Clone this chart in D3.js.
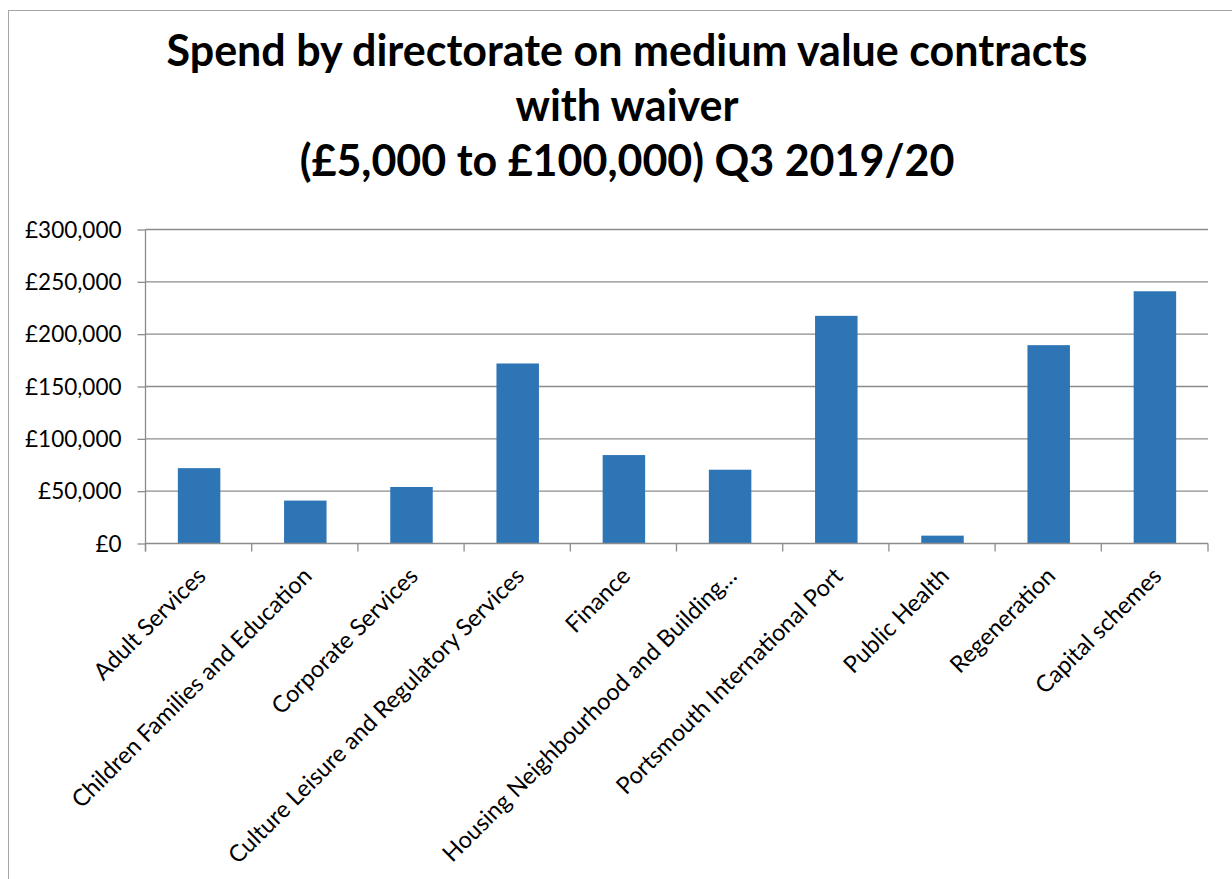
<!DOCTYPE html>
<html>
<head>
<meta charset="utf-8">
<script src="https://cdn.jsdelivr.net/npm/d3@7"></script>
<style>
  html, body { margin: 0; padding: 0; background: #fff; }
  svg { display: block; }
</style>
</head>
<body>
<svg id="chart" width="1232" height="879"></svg>
<script>
const titleLines = [
  "Spend by directorate on medium value contracts",
  "with waiver",
  "(£5,000 to £100,000) Q3 2019/20"
];
const categories = [
  "Adult Services",
  "Children Families and Education",
  "Corporate Services",
  "Culture Leisure and Regulatory Services",
  "Finance",
  "Housing Neighbourhood and Building…",
  "Portsmouth International Port",
  "Public Health",
  "Regeneration",
  "Capital schemes"
];
const spend = [72000, 41000, 54000, 172000, 84500, 70500, 217500, 7500, 189500, 241000];
const yTicks = [0, 50000, 100000, 150000, 200000, 250000, 300000];

(function () {
const svg = d3.select("#chart");
const plotL = 145.5, plotR = 1208, plotT = 229.5, plotB = 543.5;
const gridColor = "#8c8c8c";

// chart border
svg.append("rect").attr("x", 8.5).attr("y", 10.5).attr("width", 1300).attr("height", 1000)
  .attr("fill", "none").attr("stroke", "#a6a6a6").attr("stroke-width", 1);

const x = d3.scaleBand().domain(categories).range([plotL + 0.5, plotR]).paddingInner(0.6).paddingOuter(0.3);
const y = d3.scaleLinear().domain([0, 300000]).range([plotB, plotT]);

// title
const title = svg.append("g").attr("font-family", "Lato, sans-serif").attr("font-weight", "bold").attr("fill", "#000");
const baselines = [66, 121, 176];
const tl = title.selectAll("text").data(titleLines).join("text")
  .attr("x", 627).attr("y", (d, i) => baselines[i]).attr("text-anchor", "middle")
  .attr("font-size", 40).text(d => d);
const w0 = tl.nodes()[0].getComputedTextLength();
tl.attr("font-size", 40 * 921 / w0);

// gridlines
svg.append("g").selectAll("line").data(yTicks.slice(1)).join("line")
  .attr("x1", plotL).attr("x2", plotR).attr("y1", d => y(d)).attr("y2", d => y(d))
  .attr("stroke", gridColor).attr("stroke-width", 1.3);

// bars
svg.append("g").selectAll("rect").data(categories).join("rect")
  .attr("x", d => x(d)).attr("width", x.bandwidth())
  .attr("y", (d, i) => y(spend[i])).attr("height", (d, i) => y(0) - y(spend[i]))
  .attr("fill", "#2E75B6");

// y axis
const yAxis = svg.append("g").attr("transform", `translate(${plotL},0)`)
  .call(d3.axisLeft(y).tickValues(yTicks).tickSize(8).tickPadding(16)
    .tickFormat(d => "£" + d3.format(",")(d)));
yAxis.select(".domain").attr("stroke", gridColor).attr("stroke-width", 1.3)
  .attr("d", `M0,${plotT}V${plotB + 8}`);
yAxis.selectAll(".tick line").attr("stroke", gridColor).attr("stroke-width", 1.3);
yAxis.selectAll(".tick text").attr("font-family", "Lato, sans-serif").attr("font-size", 22.5).attr("fill", "#000")
  .attr("dy", "0.34em");

// x axis
const xAxis = svg.append("g").attr("transform", `translate(0,${plotB})`)
  .call(d3.axisBottom(x).tickSize(0).tickPadding(0));
xAxis.select(".domain").attr("stroke", gridColor).attr("stroke-width", 1.3)
  .attr("d", `M${plotL},0H${plotR}`);
xAxis.selectAll(".tick text")
  .attr("font-family", "Lato, sans-serif").attr("font-size", 23.5).attr("fill", "#000")
  .attr("text-anchor", "end").attr("dy", null).attr("y", 0)
  .attr("transform", "translate(8,34) rotate(-45)");

// category boundary ticks
const step = x.step();
const bounds = d3.range(categories.length + 1);
svg.append("g").selectAll("line").data(bounds).join("line")
  .attr("x1", i => i === categories.length ? plotR : plotL + i * step)
  .attr("x2", i => i === categories.length ? plotR : plotL + i * step)
  .attr("y1", plotB).attr("y2", plotB + 8)
  .attr("stroke", gridColor).attr("stroke-width", 1.3);
})();
</script>
</body>
</html>
